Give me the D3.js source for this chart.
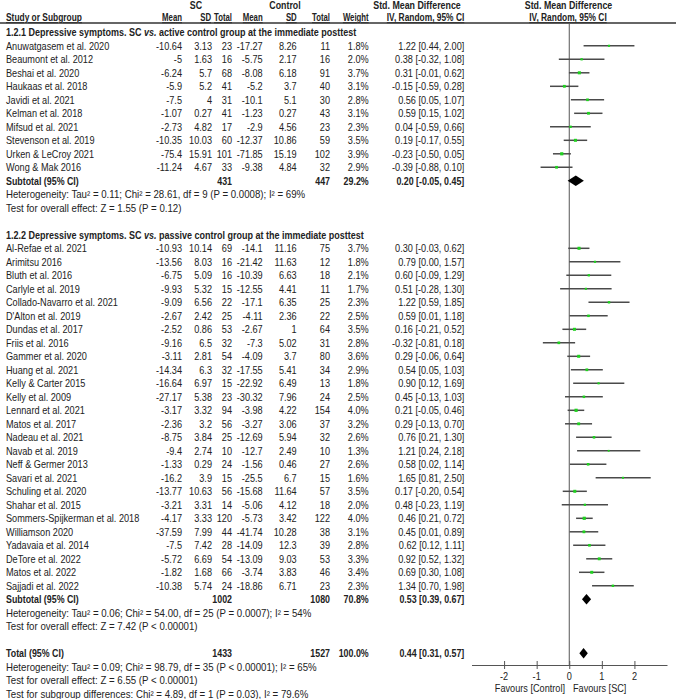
<!DOCTYPE html>
<html><head><meta charset="utf-8">
<script src="https://cdn.jsdelivr.net/npm/d3@7"></script>
<style>
html,body{margin:0;padding:0;background:#fff;}
svg text{font-family:"Liberation Sans",Arial,sans-serif;fill:#222;}
</style></head>
<body><svg id="c" width="676" height="699"></svg>
<script>
// ---- data ----
const group1Title = "1.2.1 Depressive symptoms. SC ";
const group1Tail = " active control group at the immediate posttest";
const group2Title = "1.2.2 Depressive symptoms. SC ";
const group2Tail = " passive control group at the immediate posttest";

const g1Studies = ["Anuwatgasem et al. 2020","Beaumont et al. 2012","Beshai et al. 2020","Haukaas et al. 2018","Javidi et al. 2021","Kelman et al. 2018","Mifsud et al. 2021","Stevenson et al. 2019","Urken & LeCroy 2021","Wong & Mak 2016"];
const g1ScMean = [-10.64,-5,-6.24,-5.9,-7.5,-1.07,-2.73,-10.35,-75.4,-11.24];
const g1ScSD = [3.13,1.63,5.7,5.2,4,0.27,4.82,10.03,15.91,4.67];
const g1ScN = [23,16,68,41,31,41,17,60,101,33];
const g1CtMean = [-17.27,-5.75,-8.08,-5.2,-10.1,-1.23,-2.9,-12.37,-71.85,-9.38];
const g1CtSD = [8.26,2.17,6.18,3.7,5.1,0.27,4.56,10.86,15.19,4.84];
const g1CtN = [11,16,91,40,30,43,23,59,102,32];
const g1Weight = [1.8,2.0,3.7,3.1,2.8,3.1,2.3,3.5,3.9,2.9];
const g1Smd = [1.22,0.38,0.31,-0.15,0.56,0.59,0.04,0.19,-0.23,-0.39];
const g1Lo = [0.44,-0.32,-0.01,-0.59,0.05,0.15,-0.59,-0.17,-0.50,-0.88];
const g1Hi = [2.00,1.08,0.62,0.28,1.07,1.02,0.66,0.55,0.05,0.10];
const g1Sub = {scN:431, ctN:447, weight:29.2, smd:0.20, lo:-0.05, hi:0.45};
const g1Het = "Heterogeneity: Tau² = 0.11; Chi² = 28.61, df = 9 (P = 0.0008); I² = 69%";
const g1Test = "Test for overall effect: Z = 1.55 (P = 0.12)";

const g2Studies = ["Al-Refae et al. 2021","Arimitsu 2016","Bluth et al. 2016","Carlyle et al. 2019","Collado-Navarro et al. 2021","D'Alton et al. 2019","Dundas et al. 2017","Friis et al. 2016","Gammer et al. 2020","Huang et al. 2021","Kelly & Carter 2015","Kelly et al. 2009","Lennard et al. 2021","Matos et al. 2017","Nadeau et al. 2021","Navab et al. 2019","Neff & Germer 2013","Savari et al. 2021","Schuling et al. 2020","Shahar et al. 2015","Sommers-Spijkerman et al. 2018","Williamson 2020","Yadavaia et al. 2014","DeTore et al. 2022","Matos et al. 2022","Sajjadi et al. 2022"];
const g2ScMean = [-10.93,-13.56,-6.75,-9.93,-9.09,-2.67,-2.52,-9.16,-3.11,-14.34,-16.64,-27.17,-3.17,-2.36,-8.75,-9.4,-1.33,-16.2,-13.77,-3.21,-4.17,-37.59,-7.5,-5.72,-1.82,-10.38];
const g2ScSD = [10.14,8.03,5.09,5.32,6.56,2.42,0.86,6.5,2.81,6.3,6.97,5.38,3.32,3.2,3.84,2.74,0.29,3.9,10.63,3.31,3.33,7.99,7.42,6.69,1.68,5.74];
const g2ScN = [69,16,16,15,22,25,53,32,54,32,15,23,94,56,25,10,24,15,56,14,120,44,28,54,66,24];
const g2CtMean = [-14.1,-21.42,-10.39,-12.55,-17.1,-4.11,-2.67,-7.3,-4.09,-17.55,-22.92,-30.32,-3.98,-3.27,-12.69,-12.7,-1.56,-25.5,-15.68,-5.06,-5.73,-41.74,-14.09,-13.09,-3.74,-18.86];
const g2CtSD = [11.16,11.63,6.63,4.41,6.35,2.36,1,5.02,3.7,5.41,6.49,7.96,4.22,3.06,5.94,2.49,0.46,6.7,11.64,4.12,3.42,10.28,12.3,9.03,3.83,6.71];
const g2CtN = [75,12,18,11,25,22,64,31,80,34,13,24,154,37,32,10,27,15,57,18,122,38,39,53,46,23];
const g2Weight = [3.7,1.8,2.1,1.7,2.3,2.5,3.5,2.8,3.6,2.9,1.8,2.5,4.0,3.2,2.6,1.3,2.6,1.6,3.5,2.0,4.0,3.1,2.8,3.3,3.4,2.3];
const g2Smd = [0.30,0.79,0.60,0.51,1.22,0.59,0.16,-0.32,0.29,0.54,0.90,0.45,0.21,0.29,0.76,1.21,0.58,1.65,0.17,0.48,0.46,0.45,0.62,0.92,0.69,1.34];
const g2Lo = [-0.03,0.00,-0.09,-0.28,0.59,0.01,-0.21,-0.81,-0.06,0.05,0.12,-0.13,-0.05,-0.13,0.21,0.24,0.02,0.81,-0.20,-0.23,0.21,0.01,0.12,0.52,0.30,0.70];
const g2Hi = [0.62,1.57,1.29,1.30,1.85,1.18,0.52,0.18,0.64,1.03,1.69,1.03,0.46,0.70,1.30,2.18,1.14,2.50,0.54,1.19,0.72,0.89,1.11,1.32,1.08,1.98];
const g2Sub = {scN:1002, ctN:1080, weight:70.8, smd:0.53, lo:0.39, hi:0.67};
const g2Het = "Heterogeneity: Tau² = 0.06; Chi² = 54.00, df = 25 (P = 0.0007); I² = 54%";
const g2Test = "Test for overall effect: Z = 7.42 (P < 0.00001)";

const total = {scN:1433, ctN:1527, weight:100.0, smd:0.44, lo:0.31, hi:0.57};
const totHet = "Heterogeneity: Tau² = 0.09; Chi² = 98.79, df = 35 (P < 0.00001); I² = 65%";
const totTest = "Test for overall effect: Z = 6.55 (P < 0.00001)";
const subgroupTest = "Test for subgroup differences: Chi² = 4.89, df = 1 (P = 0.03), I² = 79.6%";

const xTicks = [-2,-1,0,1,2];
const favLeft = "Favours [Control]", favRight = "Favours [SC]";

// ---- layout ----
const svg = d3.select("#c");
const FS = 10.3;
const SXN = 0.89, SXS = 0.94, SXB = 0.86, SXH = 0.78;
const rowH = 13.5, y0 = 32.3;
const rowY = i => y0 + i*rowH;
const col = {study:6, scMean:182, scSD:212, scN:232, ctMean:262.7, ctSD:296.7, ctN:330, w:368.7, ci:464.3};
const x = d3.scaleLinear().domain([-3,3]).range([471.5,667]);
const axisY = 665;

function txt(px, cy, s, o={}) {
  const sx = o.sx || (o.bold ? SXB : SXN);
  const fs = o.size || FS;
  const t = svg.append("text")
    .attr("transform", `translate(${px},${cy+fs*0.36}) scale(${sx},1)`)
    .attr("text-anchor", o.anchor||"start")
    .style("font-size", fs+"px");
  if (o.bold) t.style("font-weight","bold");
  if (o.underline) t.style("text-decoration","underline");
  if (Array.isArray(s)) {
    s.forEach(p => { const ts = t.append("tspan").text(p.t); if (p.i) ts.style("font-style","italic"); });
  } else t.text(s);
  return t;
}
const fmt2 = v => v.toFixed(2);
const ciStr = (m,l,h) => `${fmt2(m)} [${fmt2(l)}, ${fmt2(h)}]`;

// header
txt(196,5,"SC",{anchor:"middle",bold:true});
txt(285,5,"Control",{anchor:"middle",bold:true});
txt(417,5,"Std. Mean Difference",{anchor:"middle",bold:true});
txt(568.5,5,"Std. Mean Difference",{anchor:"middle",bold:true});
const h2 = 17.5;
const ho = {bold:true,underline:true,sx:SXH,size:10};
const hr = Object.assign({anchor:"end"},ho);
txt(col.study,h2,"Study or Subgroup",Object.assign({},ho,{sx:0.84}));
txt(col.scMean,h2,"Mean",hr);
txt(col.scSD-1,h2,"SD",hr);
txt(col.scN,h2,"Total",hr);
txt(col.ctMean,h2,"Mean",hr);
txt(col.ctSD,h2,"SD",hr);
txt(col.ctN,h2,"Total",hr);
txt(col.w,h2,"Weight",hr);
txt(col.ci,h2,"IV, Random, 95% CI",Object.assign({},hr,{sx:0.84}));
txt(568,h2,"IV, Random, 95% CI",Object.assign({},ho,{anchor:"middle",sx:0.84}));
svg.append("line").attr("x1",0).attr("x2",676).attr("y1",23).attr("y2",23)
  .attr("stroke","#333").attr("stroke-width",1.4);

// zero line
svg.append("line").attr("x1",x(0)).attr("x2",x(0)).attr("y1",23).attr("y2",axisY)
  .attr("stroke","#555").attr("stroke-width",1);

function studyRow(i, name, a, b, c, d, e, f, w, m, lo, hi) {
  const y = rowY(i);
  txt(col.study,y,name);
  txt(col.scMean,y,String(a),{anchor:"end"});
  txt(col.scSD,y,String(b),{anchor:"end"});
  txt(col.scN,y,String(c),{anchor:"end"});
  txt(col.ctMean,y,String(d),{anchor:"end"});
  txt(col.ctSD,y,String(e),{anchor:"end"});
  txt(col.ctN,y,String(f),{anchor:"end"});
  txt(col.w,y,w.toFixed(1)+"%",{anchor:"end"});
  txt(col.ci,y,ciStr(m,lo,hi),{anchor:"end"});
  svg.append("line").attr("x1",x(lo)).attr("x2",x(hi)).attr("y1",y).attr("y2",y)
    .attr("stroke","#4a4a4a").attr("stroke-width",1.5);
  const s = Math.sqrt(w)*1.6;
  svg.append("rect").attr("x",x(m)-s/2).attr("y",y-s/2).attr("width",s).attr("height",s)
    .attr("fill","#1fd11f");
}
function subRow(i, label, d) {
  const y = rowY(i);
  txt(col.study,y,label,{bold:true});
  txt(col.scN,y,String(d.scN),{anchor:"end",bold:true});
  txt(col.ctN,y,String(d.ctN),{anchor:"end",bold:true});
  txt(col.w,y,d.weight.toFixed(1)+"%",{anchor:"end",bold:true});
  txt(col.ci,y,ciStr(d.smd,d.lo,d.hi),{anchor:"end",bold:true});
  const h = 5.3;
  svg.append("polygon").attr("points",
    [[x(d.lo),y],[x(d.smd),y-h],[x(d.hi),y],[x(d.smd),y+h]].map(p=>p.join(",")).join(" "))
    .attr("fill","#000");
}
const st = {sx:SXS};

// group 1
txt(col.study,rowY(0),[{t:group1Title},{t:"vs.",i:true},{t:group1Tail}],{bold:true,sx:0.875});
g1Studies.forEach((n,k)=>studyRow(1+k,n,g1ScMean[k],g1ScSD[k],g1ScN[k],g1CtMean[k],g1CtSD[k],g1CtN[k],g1Weight[k],g1Smd[k],g1Lo[k],g1Hi[k]));
subRow(11,"Subtotal (95% CI)",g1Sub);
txt(col.study,rowY(12),g1Het,st);
txt(col.study,rowY(13),g1Test,st);

// group 2
txt(col.study,rowY(15),[{t:group2Title},{t:"vs.",i:true},{t:group2Tail}],{bold:true,sx:0.875});
g2Studies.forEach((n,k)=>studyRow(16+k,n,g2ScMean[k],g2ScSD[k],g2ScN[k],g2CtMean[k],g2CtSD[k],g2CtN[k],g2Weight[k],g2Smd[k],g2Lo[k],g2Hi[k]));
subRow(42,"Subtotal (95% CI)",g2Sub);
txt(col.study,rowY(43),g2Het,st);
txt(col.study,rowY(44),g2Test,st);

// total
subRow(46,"Total (95% CI)",total);
txt(col.study,rowY(47),totHet,st);
txt(col.study,rowY(48),totTest,st);
txt(col.study,rowY(49),subgroupTest,st);

// axis
const ax = svg.append("g").attr("transform",`translate(0,${axisY})`)
  .call(d3.axisBottom(x).tickValues(xTicks).tickSize(4).tickSizeOuter(0).tickFormat(d3.format("d")));
ax.select(".domain").attr("stroke","#555");
ax.selectAll(".tick line").attr("y1",-4).attr("y2",4).attr("stroke","#555");
ax.selectAll(".tick text").remove();
xTicks.forEach(v => txt(x(v),676,String(v),{anchor:"middle"}));
txt(565,688,favLeft,{anchor:"end"});
txt(573,688,favRight);
</script></body></html>
